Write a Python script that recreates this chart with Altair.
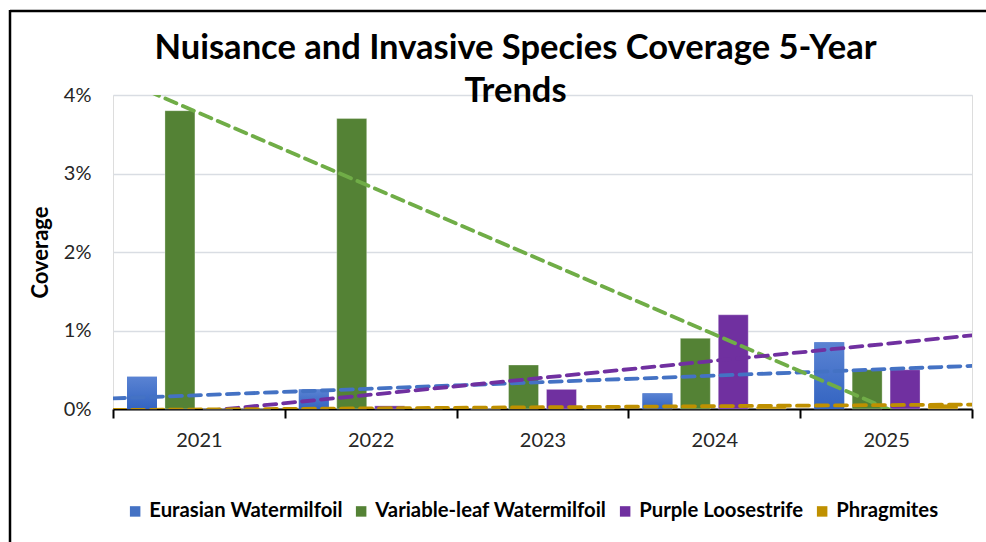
import altair as alt
import pandas as pd

# Percent cover by species and survey year
years = ["2021", "2022", "2023", "2024", "2025"]
species = ["Eurasian Watermilfoil", "Variable-leaf Watermilfoil", "Purple Loosestrife", "Phragmites"]
eurasian = [0.41, 0.25, 0.0, 0.20, 0.85]
variable_leaf = [3.80, 3.70, 0.56, 0.90, 0.50]
purple = [0.0, 0.04, 0.25, 1.20, 0.50]
phragmites = [0.0, 0.01, 0.01, 0.03, 0.06]

bar_colors = ["#4472c4", "#548235", "#7030a0", "#bf9000"]
trend_colors = ["#4472c4", "#70ad47", "#7030a0", "#bf9000"]
FONT = "Lato"

rows = []
for s, vals in zip(species, [eurasian, variable_leaf, purple, phragmites]):
    for i, (y, v) in enumerate(zip(years, vals)):
        rows.append({"year": y, "idx": i + 1, "species": s, "cover": v})
df = pd.DataFrame(rows)

W, H = 859, 314

y_scale = alt.Scale(domain=[0, 4], nice=False, zero=True)
x_band = alt.Scale(paddingInner=0, paddingOuter=0)
off_scale = alt.Scale(domain=species, paddingInner=0.21, paddingOuter=0.37)

y_axis = alt.Axis(
    values=[0, 1, 2, 3, 4], labelExpr="datum.value + '%'",
    labelFont=FONT, labelFontSize=20, labelColor="#262626", labelPadding=22,
    domain=False, ticks=False, gridColor="#d9dde3", gridWidth=1.5,
    titleFont=FONT, titleFontSize=22, titleFontWeight="bold", titleColor="#000000",
    titlePadding=11,
)
y_enc = alt.Y("cover:Q", scale=y_scale, title="Coverage", axis=y_axis)

x_enc = alt.X(
    "year:N",
    scale=x_band,
    title=None,
    axis=alt.Axis(
        labelFont=FONT, labelFontSize=20, labelColor="#262626", labelAngle=0,
        domainColor="#000000", domainWidth=2, tickColor="#000000", tickWidth=2,
        tickSize=9, tickBand="extent", labelPadding=12, grid=False,
    ),
)

bars = alt.Chart(df).mark_bar(stroke="#ffffff", strokeWidth=0.6, strokeOpacity=0.5).encode(
    x=x_enc,
    xOffset=alt.XOffset("species:N", scale=off_scale, sort=species),
    y=y_enc,
    color=alt.Color(
        "species:N",
        scale=alt.Scale(domain=species, range=bar_colors),
        sort=species,
        legend=alt.Legend(
            title=None, orient="none", legendX=12, legendY=406, direction="horizontal",
            columns=4, symbolType="square", symbolSize=110, symbolStrokeWidth=0,
            labelFont=FONT, labelFontSize=20.3, labelFontWeight="bold", labelColor="#000000",
            labelOffset=4, columnPadding=8, labelLimit=400,
        ),
    ),
)

# Eurasian bars get a soft vertical gradient on top of the flat fill
gradient = alt.LinearGradient(
    gradient="linear",
    stops=[alt.GradientStop(color="#5a83d3", offset=0), alt.GradientStop(color="#3364c1", offset=1)],
    x1=0, x2=0, y1=0, y2=1,
)
eurasian_bars = alt.Chart(df).transform_filter(
    alt.datum.species == species[0]
).mark_bar(fill=gradient).encode(
    x=alt.X("year:N", scale=x_band, axis=None),
    xOffset=alt.XOffset("species:N", scale=off_scale, sort=species),
    y=y_enc,
)

# Linear trendlines, projected half a period before and after the data
trends = alt.Chart(df).transform_regression(
    "idx", "cover", groupby=["species"], extent=[0.5, 5.5]
).mark_line(strokeWidth=3.8, strokeDash=[12, 7], strokeCap="round", clip=True).encode(
    x=alt.X("idx:Q", scale=alt.Scale(domain=[0.5, 5.5], nice=False, zero=False), axis=None),
    y=y_enc,
    color=alt.Color("species:N", scale=alt.Scale(domain=species, range=trend_colors), legend=None),
    detail="species:N",
)

# Chart-area frame
frame_data = alt.Data(values=[{"f": 0}])
frame_top = alt.Chart(frame_data).mark_rule(color="#000000", strokeWidth=2.5).encode(
    x=alt.value(-103), x2=alt.value(W + 40), y=alt.value(-84)
)
frame_left = alt.Chart(frame_data).mark_rule(color="#000000", strokeWidth=2.5).encode(
    x=alt.value(-103), y=alt.value(-85), y2=alt.value(H + 200)
)

chart = alt.layer(bars, eurasian_bars, trends, frame_top, frame_left).resolve_scale(
    x="independent", color="independent"
).properties(
    width=W,
    height=H,
    padding={"left": 113, "top": 95, "right": 14, "bottom": 133},
    autosize=alt.AutoSizeParams(type="none"),
    title=alt.Title(
        text=["Nuisance and Invasive Species Coverage 5-Year", "Trends"],
        font=FONT, fontSize=34.5, fontWeight="bold", color="#000000",
        anchor="middle", dx=-27, offset=-101, lineHeight=43,
    ),
).configure_view(strokeWidth=0, stroke="transparent").configure(background="#ffffff")

chart.save("out.html", embed_options={"renderer": "svg", "actions": False})
